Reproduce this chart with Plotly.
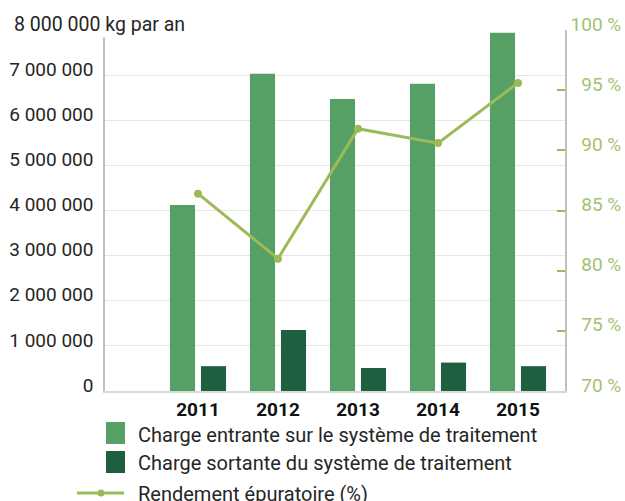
import plotly.graph_objects as go

years = ["2011", "2012", "2013", "2014", "2015"]
charge_entrante = [4120000, 7030000, 6470000, 6810000, 7940000]
charge_sortante = [550000, 1350000, 510000, 630000, 550000]
rendement = [86.4, 81.0, 91.8, 90.6, 95.6]

series_names = [
    "Charge entrante sur le système de traitement",
    "Charge sortante du système de traitement",
    "Rendement épuratoire (%)",
]

left_ticks = [0, 1000000, 2000000, 3000000, 4000000, 5000000, 6000000, 7000000, 8000000]
left_labels = ["0", "1 000 000", "2 000 000", "3 000 000", "4 000 000",
               "5 000 000", "6 000 000", "7 000 000", ""]
right_ticks = [70, 75, 80, 85, 90, 95, 100]
right_labels = ["\u200770 %", "\u200775 %", "\u200780 %", "\u200785 %",
                "\u200790 %", "\u200795 %", "100 %"]

LIGHT = "#57a065"
DARK = "#1d5f3e"
OLIVE = "#9bbb59"
OLIVE_TXT = "#a4c273"
FONT = "Roboto, Arial, sans-serif"

W, H = 625, 501
ML, MR, MT, MB = 105, 60, 30, 110
PW, PH = W - ML - MR, H - MT - MB


def px_x(px):
    return (px - ML) / PW


def px_y(py):
    return (H - MB - py) / PH


fig = go.Figure()
fig.add_trace(go.Bar(
    x=years, y=charge_entrante, name=series_names[0],
    marker=dict(color=LIGHT, line=dict(width=0)),
))
fig.add_trace(go.Bar(
    x=years, y=charge_sortante, name=series_names[1],
    marker=dict(color=DARK, line=dict(width=0)),
))
fig.add_trace(go.Scatter(
    x=years, y=rendement, name=series_names[2], yaxis="y2",
    mode="lines+markers",
    line=dict(color=OLIVE, width=3),
    marker=dict(color=OLIVE, size=8),
))

fig.update_layout(
    width=W,
    height=H,
    barmode="group",
    bargap=0.225,
    bargroupgap=0.19,
    plot_bgcolor="white",
    paper_bgcolor="white",
    font=dict(family=FONT, size=19, color="#262626"),
    margin=dict(l=ML, r=MR, t=MT, b=MB),
    showlegend=False,
    xaxis=dict(
        type="category",
        range=[-1.1625, 4.5875],
        automargin=False,
        showgrid=False,
        showline=True,
        linecolor="#d9d9d9",
        linewidth=1.5,
        ticks="",
        tickfont=dict(size=19, color="#111111", family=FONT, weight="bold"),
        ticklabelstandoff=0,
    ),
    yaxis=dict(
        range=[0, 8000000],
        automargin=False,
        tickvals=left_ticks,
        ticktext=left_labels,
        showgrid=True,
        gridcolor="#e6e6e6",
        gridwidth=1,
        zeroline=False,
        showline=True,
        linecolor="#bfbfbf",
        linewidth=1.5,
        ticks="",
        ticklabelstandoff=6,
        ticklabelshift=-6,
        tickfont=dict(size=19, color="#262626"),
    ),
    yaxis2=dict(
        overlaying="y",
        side="right",
        range=[70, 100],
        automargin=False,
        tickvals=right_ticks,
        ticktext=right_labels,
        showgrid=False,
        zeroline=False,
        showline=True,
        linecolor="#bfbfbf",
        linewidth=1.5,
        ticks="inside",
        ticklen=8,
        tickwidth=1.5,
        tickcolor=OLIVE,
        ticklabelshift=-6,
        ticklabelstandoff=0,
        tickfont=dict(size=19, color=OLIVE_TXT),
    ),
)

# top label of the left axis, drawn over the gridline
fig.add_annotation(
    text="8 000 000 kg par an",
    xref="paper", yref="y",
    x=0, y=8000000,
    xanchor="left", yanchor="middle",
    xshift=-93, yshift=6,
    showarrow=False,
    bgcolor="white",
    font=dict(size=19.5, color="#262626"),
)

# hand-drawn legend (the reference legend runs past the bottom edge)
legend_rows = [435, 463, 494]
for color, top in [(LIGHT, 422), (DARK, 451)]:
    fig.add_shape(type="rect", xref="paper", yref="paper",
                  x0=px_x(106), x1=px_x(125), y0=px_y(top), y1=px_y(top + 22),
                  fillcolor=color, line=dict(width=0))
fig.add_shape(type="line", xref="paper", yref="paper",
              x0=px_x(77), x1=px_x(124), y0=px_y(493), y1=px_y(493),
              line=dict(color=OLIVE, width=3))
fig.add_shape(type="circle", xref="paper", yref="paper",
              x0=px_x(97.5), x1=px_x(104.5), y0=px_y(489.5), y1=px_y(496.5),
              fillcolor=OLIVE, line=dict(width=0))
for name, row in zip(series_names, legend_rows):
    fig.add_annotation(
        text=name, xref="paper", yref="paper",
        x=px_x(136), y=px_y(row), xanchor="left", yanchor="middle",
        showarrow=False, font=dict(size=20, color="#262626"),
    )

# page body has a default 8px margin; drop it so the figure fills the window
fig.write_html(
    "out.html",
    config={"displayModeBar": False},
    post_script="document.body.style.margin = '0';",
)
